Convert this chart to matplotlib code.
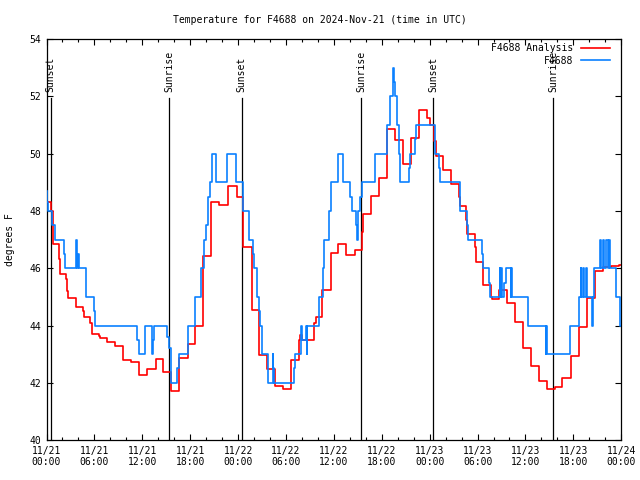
import matplotlib
matplotlib.use("Agg")
import matplotlib.pyplot as plt
from matplotlib.ticker import MultipleLocator

# hours since 2024-11-21 00:00 UTC
red_hours = [0.00, 0.55, 0.77, 1.57, 1.69, 2.49, 2.61, 2.73, 3.65, 3.74, 4.61, 4.74,
             5.45, 5.74, 6.58, 6.70, 7.58, 8.54, 9.59, 10.63, 11.59, 12.63, 13.68,
             14.64, 15.64, 16.64, 17.69, 18.65, 19.65, 20.65, 21.65, 22.70, 23.80,
             24.58, 25.70, 26.68, 27.63, 28.67, 29.68, 30.68, 31.60, 31.75, 32.00,
             33.55, 33.75, 34.55, 35.65, 36.53, 37.57, 38.60, 39.58, 39.65, 40.70,
             41.70, 42.67, 43.63, 44.67, 45.63, 46.72, 47.68, 48.00, 48.52, 48.73,
             49.69, 50.65, 51.65, 51.75, 52.61, 52.70, 53.66, 53.75, 54.62, 54.70,
             55.66, 55.75, 56.67, 57.70, 58.67, 59.71, 60.67, 61.70, 62.68, 63.68,
             64.64, 65.69, 66.73, 67.69, 68.70, 69.74, 70.70, 71.70]
red_temps = [48.30, 48.00, 46.85, 46.33, 45.80, 45.62, 45.20, 44.95, 44.80, 44.64, 44.49, 44.29,
             44.08, 43.70, 43.64, 43.58, 43.42, 43.29, 42.79, 42.72, 42.28, 42.47, 42.82,
             42.37, 41.72, 42.86, 43.35, 44.00, 46.43, 48.30, 48.22, 48.86, 48.50,
             46.74, 44.55, 42.97, 42.47, 41.89, 41.77, 42.80, 43.50, 43.67, 43.50,
             44.08, 44.31, 45.24, 46.53, 46.85, 46.47, 46.65, 47.28, 47.89, 48.54,
             49.15, 50.87, 50.49, 49.64, 50.55, 51.52, 51.25, 51.01, 50.43, 49.91,
             49.42, 48.95, 48.49, 48.16, 47.69, 47.20, 46.74, 46.23, 45.89, 45.42,
             45.01, 44.92, 45.24, 44.78, 44.11, 43.20, 42.60, 42.06, 41.77, 41.86,
             42.16, 42.95, 43.96, 44.95, 45.92, 46.06, 46.08, 46.10]

blue_hours = [0.00, 0.12, 0.23, 0.73, 1.02, 2.15, 2.28, 3.74, 3.82, 3.90, 4.03, 4.95,
              5.95, 6.12, 11.38, 11.55, 12.34, 13.18, 13.35, 13.47, 15.06, 15.30, 15.55,
              16.40, 16.55, 17.69, 18.61, 19.32, 19.78, 19.95, 20.28, 20.45, 20.70,
              21.24, 22.66, 23.75, 24.66, 25.42, 25.83, 26.03, 26.38, 26.60, 26.75,
              27.00, 27.71, 28.34, 28.40, 28.48, 31.06, 31.15, 31.90, 32.00, 32.52,
              32.60, 32.68, 34.10, 34.69, 34.80, 35.36, 35.65, 36.49, 37.16, 38.08,
              38.23, 38.83, 38.95, 39.05, 39.33, 39.50, 41.20, 42.67, 43.09, 43.42,
              43.58, 43.71, 43.85, 44.13, 44.34, 45.38, 45.55, 46.22, 46.32, 48.64,
              49.15, 49.27, 51.78, 51.85, 52.73, 52.85, 54.57, 54.68, 55.41, 55.58,
              56.79, 56.87, 56.95, 57.05, 57.25, 57.54, 58.20, 58.25, 58.33, 60.38,
              62.55, 62.62, 62.68, 65.56, 66.73, 66.94, 67.00, 67.25, 67.35, 67.55,
              67.65, 68.30, 68.40, 68.60, 69.36, 69.45, 69.70, 69.80, 70.10, 70.30,
              70.50, 70.60, 71.33, 71.87]
blue_temps = [48.7, 48.3, 48.0, 47.5, 47.0, 46.5, 46.0, 47.0, 46.0, 46.5, 46.0, 45.0,
              44.5, 44.0, 43.5, 43.0, 44.0, 43.0, 43.5, 44.0, 43.6, 43.2, 42.0,
              42.5, 43.0, 44.0, 45.0, 46.0, 47.0, 47.5, 48.5, 49.0, 50.0,
              49.0, 50.0, 49.0, 48.0, 47.0, 46.5, 46.0, 45.0, 44.5, 44.0,
              43.0, 42.0, 43.0, 42.5, 42.0, 42.5, 43.0, 44.0, 43.5, 44.0,
              43.0, 44.0, 45.0, 46.0, 47.0, 48.0, 49.0, 50.0, 49.0, 48.5,
              48.0, 47.5, 47.0, 48.0, 48.5, 49.0, 50.0, 51.0, 52.0, 53.0,
              52.5, 52.0, 51.0, 50.0, 49.0, 49.5, 50.0, 50.5, 51.0, 50.0,
              49.5, 49.0, 48.5, 48.0, 47.5, 47.0, 46.5, 46.0, 45.5, 45.0,
              46.0, 45.0, 46.0, 45.0, 45.5, 46.0, 45.0, 46.0, 45.0, 44.0,
              43.0, 44.0, 43.0, 44.0, 45.0, 46.0, 45.0, 46.0, 45.0, 46.0,
              45.0, 44.0, 45.0, 46.0, 47.0, 46.0, 47.0, 46.0, 47.0, 46.0,
              47.0, 46.0, 45.0, 44.0]

sun_hours = [0.50, 15.40, 24.47, 39.45, 48.45, 63.50]
sun_labels = ["Sunset", "Sunrise", "Sunset", "Sunrise", "Sunset", "Sunrise"]

tick_hours = list(range(0, 73, 6))
tick_labels = ["11/21\n00:00", "11/21\n06:00", "11/21\n12:00", "11/21\n18:00",
               "11/22\n00:00", "11/22\n06:00", "11/22\n12:00", "11/22\n18:00",
               "11/23\n00:00", "11/23\n06:00", "11/23\n12:00", "11/23\n18:00",
               "11/24\n00:00"]

plt.rcParams["font.family"] = ["DejaVu Sans Mono"]
fs = 7

fig = plt.figure(figsize=(6.4, 4.8), dpi=100)
ax = fig.add_axes([0.0727, 0.0833, 0.898, 0.835])

# sunrise / sunset markers
for h, lab in zip(sun_hours, sun_labels):
    ax.axvline(h, ymin=0, ymax=0.853, color="black", lw=0.9, zorder=1)
    ax.text(h, 52.15, lab, rotation=90, ha="center", va="bottom", fontsize=fs)

ax.plot(red_hours + [72], red_temps + [red_temps[-1]], drawstyle="steps-post",
        color="#ff0000", lw=1.2, label="F4688 Analysis", zorder=2)
ax.plot(blue_hours + [72], blue_temps + [blue_temps[-1]], drawstyle="steps-post",
        color="#0a80ff", lw=1.2, label="F4688", zorder=3)

ax.set_xlim(0, 72)
ax.set_ylim(40, 54)
ax.set_xticks(tick_hours)
ax.set_xticklabels(tick_labels, fontsize=fs)
ax.xaxis.set_minor_locator(MultipleLocator(2))
ax.set_yticks(range(40, 55, 2))
ax.tick_params(axis="y", labelsize=fs)
ax.tick_params(which="both", direction="in", top=True, right=True, width=0.8)
ax.tick_params(which="major", length=4.5, pad=4)
ax.tick_params(which="minor", length=2.5)
for sp in ax.spines.values():
    sp.set_linewidth(0.9)

fig.text(0.5, 1 - 20 / 480, "Temperature for F4688 on 2024-Nov-21 (time in UTC)",
         ha="center", va="center", fontsize=fs)
fig.text(10 / 640, 0.5, "degrees F", rotation=90, ha="center", va="center", fontsize=fs)

ax.legend(loc="upper right", bbox_to_anchor=(0.9803, 0.99), markerfirst=False,
          frameon=False, fontsize=fs, handlelength=3.0, handletextpad=0.8,
          labelspacing=0.25, borderpad=0, borderaxespad=0)

fig.savefig("out.png", dpi=100)
